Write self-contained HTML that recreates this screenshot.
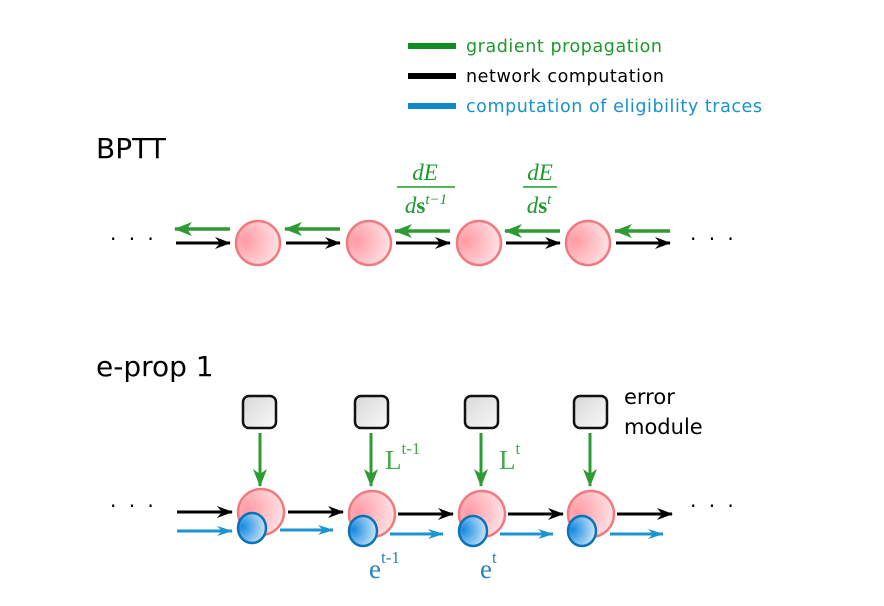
<!DOCTYPE html>
<html><head><meta charset="utf-8"><style>
html,body{margin:0;padding:0;background:#fff;}
svg{display:block;}
</style></head><body>
<svg width="884" height="606" viewBox="0 0 884 606" xmlns="http://www.w3.org/2000/svg">
<defs>
<radialGradient id="pk" cx="0.2" cy="0.45" r="1">
<stop offset="0" stop-color="#ff9aa3"/><stop offset="1" stop-color="#fff4f5"/>
</radialGradient>
<radialGradient id="bl" cx="0.15" cy="0.45" r="1">
<stop offset="0" stop-color="#1589e0"/><stop offset="1" stop-color="#eaf5ff"/>
</radialGradient>
<linearGradient id="gr" x1="0" y1="0" x2="1" y2="1">
<stop offset="0" stop-color="#d8d8d8"/><stop offset="1" stop-color="#f8f8f8"/>
</linearGradient>
<marker id="ak" markerWidth="16" markerHeight="12" refX="15" refY="6" orient="auto" markerUnits="userSpaceOnUse" viewBox="0 0 16 12"><path d="M0,0 L16,6 L0,12 L5,6Z" fill="#000"/></marker>
<marker id="ag" markerWidth="18" markerHeight="14" refX="17" refY="7" orient="auto" markerUnits="userSpaceOnUse" viewBox="0 0 18 14"><path d="M0,0 L18,7 L0,14 L5,7Z" fill="#2e9a34"/></marker>
<marker id="ab" markerWidth="16" markerHeight="10" refX="15" refY="5" orient="auto" markerUnits="userSpaceOnUse" viewBox="0 0 16 10"><path d="M0,0 L16,5 L0,10 L5,5Z" fill="#1b95d1"/></marker>
</defs>
<g font-family="'DejaVu Sans', sans-serif">
<rect x="408" y="43" width="48" height="6" fill="#0f8f1f"/>
<rect x="408" y="73" width="48" height="6" fill="#000"/>
<rect x="408" y="103" width="48" height="6" fill="#0e88c6"/>
<text x="466" y="52" font-size="17.5" fill="#1d9a2c" textLength="196">gradient propagation</text>
<text x="466" y="82" font-size="17.5" fill="#000" textLength="198">network computation</text>
<text x="466" y="112" font-size="17.5" fill="#1693cf" textLength="296">computation of eligibility traces</text>
<text x="96" y="158" font-size="28" fill="#000">BPTT</text>
<text x="96" y="376" font-size="28" fill="#000">e-prop 1</text>
<text x="110" y="246" font-size="20" fill="#000" letter-spacing="3">· · ·</text>
<text x="690" y="246" font-size="20" fill="#000" letter-spacing="3">· · ·</text>
<text x="110" y="513" font-size="20" fill="#000" letter-spacing="3">· · ·</text>
<text x="690" y="513" font-size="20" fill="#000" letter-spacing="3">· · ·</text>
</g>
<g fill="none">
<g stroke="#000" stroke-width="3" marker-end="url(#ak)">
<line x1="176" y1="243" x2="230" y2="243"/><line x1="286" y1="243" x2="340" y2="243"/>
<line x1="396" y1="243" x2="450" y2="243"/><line x1="506" y1="243" x2="560" y2="243"/>
<line x1="616" y1="243" x2="670" y2="243"/>
</g>
<g stroke="#2e9a34" stroke-width="3.5" marker-end="url(#ag)">
<line x1="230" y1="229" x2="175" y2="229"/><line x1="340" y1="229" x2="285" y2="229"/>
<line x1="450" y1="231" x2="395" y2="231"/><line x1="560" y1="231" x2="505" y2="231"/>
<line x1="670" y1="231" x2="615" y2="231"/>
</g>
</g>
<g stroke="#f27a7f" stroke-width="2.5" fill="url(#pk)">
<circle cx="258" cy="243" r="22"/><circle cx="369" cy="243" r="22"/>
<circle cx="479" cy="243" r="22"/><circle cx="588" cy="243" r="22"/>
</g>
<g font-family="'Liberation Serif', serif" fill="#1d9a2c" font-size="23" font-style="italic" text-anchor="middle">
<text x="425" y="180">dE</text>
<line x1="397" y1="187" x2="455" y2="187" stroke="#1d9a2c" stroke-width="1.5"/>
<text x="426" y="213">d<tspan font-style="normal" font-weight="bold">s</tspan><tspan font-size="15" dy="-9">t−1</tspan></text>
<text x="540" y="180">dE</text>
<line x1="523" y1="187" x2="557" y2="187" stroke="#1d9a2c" stroke-width="1.5"/>
<text x="539" y="213">d<tspan font-style="normal" font-weight="bold">s</tspan><tspan font-size="15" dy="-9">t</tspan></text>
</g>
<g stroke="#111" stroke-width="2.5" fill="url(#gr)">
<rect x="243" y="396" width="33" height="32" rx="6"/><rect x="355" y="396" width="33" height="32" rx="6"/>
<rect x="465" y="396" width="33" height="32" rx="6"/><rect x="574" y="396" width="33" height="32" rx="6"/>
</g>
<g stroke="#2e9a34" stroke-width="3" marker-end="url(#ag)">
<line x1="260" y1="433" x2="260" y2="486"/><line x1="371" y1="433" x2="371" y2="486"/>
<line x1="481" y1="433" x2="481" y2="486"/><line x1="590" y1="433" x2="590" y2="486"/>
</g>
<g stroke="#000" stroke-width="3" marker-end="url(#ak)">
<line x1="177" y1="512" x2="232" y2="512"/><line x1="288" y1="512" x2="343" y2="512"/>
<line x1="398" y1="514" x2="453" y2="514"/><line x1="508" y1="514" x2="563" y2="514"/>
<line x1="617" y1="514" x2="672" y2="514"/>
</g>
<g stroke="#1b95d1" stroke-width="3" marker-end="url(#ab)">
<line x1="177" y1="531" x2="232" y2="531"/><line x1="280" y1="530" x2="333" y2="530"/>
<line x1="390" y1="534" x2="443" y2="534"/><line x1="500" y1="534" x2="553" y2="534"/>
<line x1="610" y1="534" x2="663" y2="534"/>
</g>
<g stroke="#f27a7f" stroke-width="2.5" fill="url(#pk)">
<circle cx="261" cy="512" r="23"/><circle cx="372" cy="514" r="23"/>
<circle cx="482" cy="514" r="23"/><circle cx="591" cy="514" r="23"/>
</g>
<g stroke="#0a72b5" stroke-width="2.5" fill="url(#bl)">
<ellipse cx="252" cy="528" rx="14" ry="15"/><ellipse cx="363" cy="531" rx="14" ry="15"/>
<ellipse cx="473" cy="531" rx="14" ry="15"/><ellipse cx="582" cy="531" rx="14" ry="15"/>
</g>
<g font-family="'Liberation Serif', serif" font-size="27">
<text x="385" y="469" fill="#45a84a">L<tspan font-size="17" dy="-15">t-1</tspan></text>
<text x="499" y="469" fill="#45a84a">L<tspan font-size="17" dy="-15">t</tspan></text>
<text x="369" y="578" fill="#2a80b9">e<tspan font-size="17" dy="-15">t-1</tspan></text>
<text x="480" y="578" fill="#2a80b9">e<tspan font-size="17" dy="-15">t</tspan></text>
</g>
<g font-family="'DejaVu Sans', sans-serif" font-size="21" fill="#000">
<text x="624" y="404">error</text>
<text x="624" y="434">module</text>
</g>
</svg>
</body></html>
